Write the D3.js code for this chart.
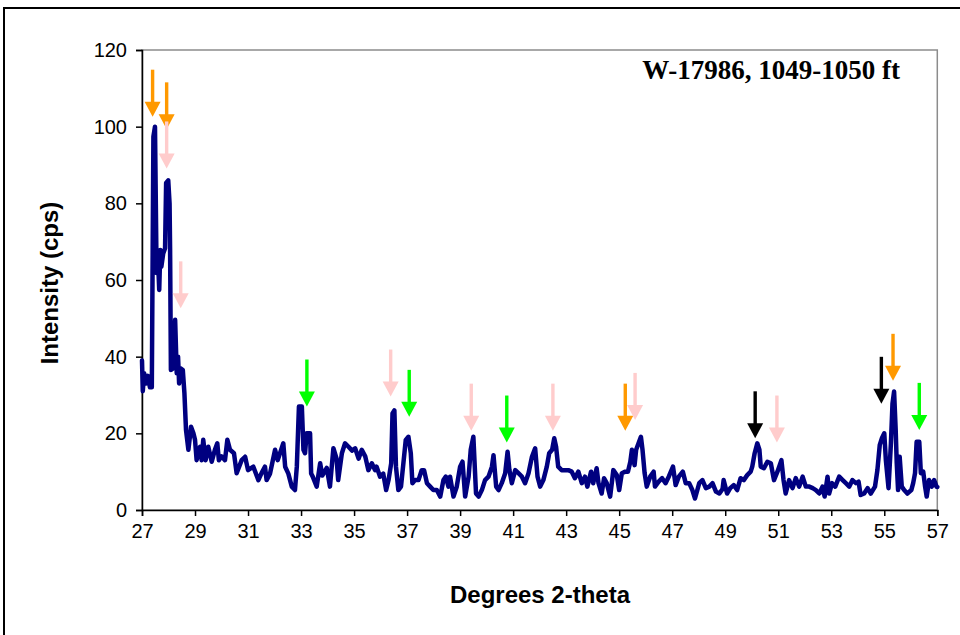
<!DOCTYPE html>
<html>
<head>
<meta charset="utf-8">
<script src="https://cdn.jsdelivr.net/npm/d3@7/dist/d3.min.js"></script>
<style>
  html, body { margin: 0; padding: 0; background: #fff; }
  svg { display: block; }
</style>
</head>
<body>
<svg id="chart" width="960" height="635"></svg>
<script>
// XRD scan, W-17986, 1049-1050 ft
const twoTheta = [
  27.00,27.03,27.08,27.15,27.22,27.30,27.37,27.43,27.49,27.55,27.60,27.65,27.69,27.73,27.80,27.87,27.91,27.99,28.04,28.06,
  28.09,28.18,28.25,28.31,28.36,28.40,28.45,28.54,28.60,28.66,28.75,28.85,28.94,29.00,29.06,29.12,29.19,29.25,29.31,29.40,
  29.50,29.63,29.75,29.84,29.90,30.00,30.13,30.22,30.32,30.47,30.57,30.76,30.89,31.00,31.20,31.39,31.50,31.64,31.70,31.83,
  32.02,32.12,32.33,32.40,32.52,32.65,32.77,32.84,32.92,33.03,33.09,33.15,33.21,33.34,33.38,33.44,33.59,33.72,33.80,33.97,
  34.09,34.22,34.34,34.40,34.54,34.66,34.79,34.92,35.04,35.17,35.29,35.42,35.54,35.67,35.79,35.85,35.98,36.10,36.21,36.30,
  36.40,36.45,36.52,36.58,36.67,36.77,36.86,36.95,37.05,37.14,37.20,37.30,37.43,37.55,37.64,37.75,37.87,37.99,38.12,38.25,
  38.37,38.46,38.56,38.62,38.75,38.87,39.00,39.09,39.19,39.32,39.40,39.50,39.60,39.70,39.82,39.94,40.07,40.20,40.26,40.36,
  40.45,40.57,40.70,40.79,40.86,40.95,41.08,41.20,41.33,41.45,41.58,41.71,41.83,41.92,42.02,42.14,42.27,42.36,42.47,42.55,
  42.62,42.70,42.83,42.96,43.08,43.21,43.33,43.46,43.59,43.71,43.80,43.94,44.02,44.15,44.22,44.34,44.43,44.53,44.66,44.78,
  44.91,45.00,45.10,45.23,45.33,45.42,45.48,45.58,45.64,45.73,45.82,45.88,45.96,46.04,46.17,46.30,46.35,46.49,46.62,46.75,
  46.87,47.03,47.13,47.25,47.40,47.51,47.64,47.76,47.86,48.02,48.14,48.27,48.40,48.52,48.65,48.78,48.90,48.94,49.07,49.19,
  49.32,49.45,49.58,49.70,49.83,49.96,50.02,50.11,50.21,50.29,50.34,50.46,50.59,50.72,50.84,50.97,51.12,51.20,51.28,51.41,
  51.54,51.66,51.79,51.92,52.04,52.17,52.30,52.42,52.55,52.67,52.75,52.86,52.92,53.03,53.15,53.30,53.43,53.55,53.68,53.80,
  53.93,54.03,54.11,54.24,54.37,54.49,54.65,54.74,54.83,54.91,55.00,55.06,55.16,55.25,55.31,55.37,55.43,55.47,55.52,55.58,
  55.66,55.75,55.87,56.02,56.09,56.16,56.22,56.32,56.38,56.47,56.54,56.60,56.69,56.79,56.88,56.97,57.00
];
const intensity = [
  39,31,35.7,33,35,32,32,97.4,100,61.8,66,57.4,67.8,63.5,66.9,68.3,85.3,86,80,67.8,
  36.5,37,49.6,35.7,40,33,37,36.5,30.5,20.9,15.7,21.7,20,18.3,13,15,16.5,13,18.3,13,
  16.5,12.6,15.7,17.4,13,14,13,18.3,15.7,14.8,9.6,13,13.9,10.4,11.3,7.8,9.5,11.3,7.8,9.5,
  15.7,13,17.4,11.3,9.5,6.1,5.2,11.3,27,27,15.7,14.8,20,20,9.5,8.7,6.1,12.2,9,11,
  6.1,16.1,13.4,7.8,14.8,17.4,16.5,15.5,16.1,13.4,15.7,14,10.4,12.2,10.4,11.3,8.7,9.5,5.2,7.8,
  12.2,25.2,26,11.3,5.2,6.1,12.2,18.3,19.1,14.8,7,7.8,7.8,10.4,10.4,7,6.1,5.2,5.2,3.5,
  7.8,8.7,6.1,8.7,3.5,6,11.3,12.6,3.5,8.7,15.7,19.1,4.3,3.5,5.2,7.8,8.7,11.3,14.3,6.1,
  5.2,7,9.6,15.2,10.4,7,10.4,9.6,8.7,7,9.6,13.9,16.1,8.7,6.1,7.8,11.3,14.8,15.7,18.7,
  16.5,11.3,10.4,10.4,10.4,10,8.3,10,7,8.7,6.1,10,7,10.9,7,4.3,8.3,7,3.5,10.4,
  9.1,5.2,9.6,10,10,12.6,15.7,11.7,15.7,17.4,19.1,15.7,9.6,6.1,8.7,10,6.1,7.4,8.3,7,
  8.7,11.3,6.5,8.7,10,7,7,5.2,3,7,7.8,5.7,6.1,7,4.8,4.3,5.5,7.8,4.3,5.7,
  6.5,5.2,8.3,7.8,9.1,10,11.3,14.8,17.4,15.7,11.3,10.9,12.6,12.2,7.8,10,13,7.8,4.3,7.8,
  5.7,8.3,6.1,8.7,6.1,6.1,5.7,5.2,4.3,6.1,3.5,8.7,4.3,7,6.1,8.7,7.8,7,6.1,7.8,
  7,7.4,3.9,4.3,5.7,4.3,6.1,10.4,17,18.7,20,13,5.7,17.4,27.8,30.9,21,12.2,5.2,13.9,
  6.1,5.2,4.3,5.2,7,9.6,17.8,17.8,9.6,10,6.1,3.5,7.8,6.1,7.8,6.1,6
];

// Peak markers: mineral colour group, 2-theta position, intensity at the arrow tip
const markerColor = {
  orange: "#ff9900",
  pink: "#ffcccc",
  green: "#00ff00",
  black: "#000000"
};
const markerGroup = ["orange","orange","pink","pink","green","pink","green","pink","green","pink","orange","pink","black","pink","black","orange","green"];
const markerTheta = [27.40,27.93,27.93,28.46,33.22,36.38,37.08,39.42,40.76,42.50,45.23,45.60,50.13,50.95,54.89,55.33,56.32];
const markerTip   = [102.6,99.3,89.1,52.6,27.0,29.6,24.3,20.7,17.6,20.7,20.7,23.5,18.7,17.6,27.7,33.7,20.9];

const xTicks = d3.range(27, 58, 2);
const yTicks = [0, 20, 40, 60, 80, 100, 120];

const title = "W-17986, 1049-1050 ft";
const xTitle = "Degrees 2-theta";
const yTitle = "Intensity (cps)";

const svg = d3.select("#chart");
const W = 960, H = 635;
const plot = { left: 142, right: 937.3, top: 50, bottom: 510 };

const x = d3.scaleLinear().domain([27, 57]).range([plot.left, plot.right]);
const y = d3.scaleLinear().domain([0, 120]).range([plot.bottom, plot.top]);

// outer chart frame (extends past the page on the right and bottom)
svg.append("rect")
  .attr("x", 4).attr("y", 8)
  .attr("width", W + 20).attr("height", H + 20)
  .attr("fill", "#fff").attr("stroke", "#000").attr("stroke-width", 2);

// plot area frame
svg.append("rect")
  .attr("x", plot.left).attr("y", plot.top)
  .attr("width", plot.right - plot.left).attr("height", plot.bottom - plot.top)
  .attr("fill", "none").attr("stroke", "#8c8c8c").attr("stroke-width", 1.5);

const font = "'Liberation Sans', Arial, sans-serif";

// x axis
const xAxis = svg.append("g")
  .attr("transform", `translate(0,${plot.bottom})`)
  .call(d3.axisBottom(x).tickValues(xTicks).tickSize(6).tickPadding(8).tickFormat(d3.format("d")));
xAxis.select(".domain").attr("stroke", "#000").attr("stroke-width", 1.5);
xAxis.selectAll(".tick line").attr("stroke", "#000").attr("stroke-width", 1.5);
xAxis.selectAll(".tick text").attr("font-family", font).attr("font-size", 20).attr("fill", "#000");

// y axis
const yAxis = svg.append("g")
  .attr("transform", `translate(${plot.left},0)`)
  .call(d3.axisLeft(y).tickValues(yTicks).tickSize(6).tickPadding(9).tickFormat(d3.format("d")));
yAxis.select(".domain").attr("stroke", "#000").attr("stroke-width", 1.5);
yAxis.selectAll(".tick line").attr("stroke", "#000").attr("stroke-width", 1.5);
yAxis.selectAll(".tick text").attr("font-family", font).attr("font-size", 20).attr("fill", "#000");

// diffraction trace
const pts = twoTheta.map((t, i) => [t, intensity[i]]);
const line = d3.line().x(d => x(d[0])).y(d => y(d[1]));
svg.append("path")
  .datum(pts)
  .attr("d", line)
  .attr("fill", "none")
  .attr("stroke", "#000080")
  .attr("stroke-width", 4.5)
  .attr("stroke-linejoin", "round")
  .attr("stroke-linecap", "round");

// peak arrows
const arrowLen = 47, headLen = 15, headHalf = 8, shaftW = 3.4;
const arrows = svg.append("g");
markerTheta.forEach((t, i) => {
  const cx = x(t), tip = y(markerTip[i]);
  const c = markerColor[markerGroup[i]];
  const g = arrows.append("g");
  g.append("rect")
    .attr("x", cx - shaftW / 2).attr("y", tip - arrowLen)
    .attr("width", shaftW).attr("height", arrowLen - headLen + 1)
    .attr("fill", c);
  g.append("path")
    .attr("d", `M${cx - headHalf},${tip - headLen} L${cx + headHalf},${tip - headLen} L${cx},${tip} Z`)
    .attr("fill", c);
});

// sample label
svg.append("text")
  .attr("x", 900).attr("y", 79)
  .attr("text-anchor", "end")
  .attr("font-family", "'Liberation Serif', 'Times New Roman', serif")
  .attr("font-weight", "bold")
  .attr("font-size", 27)
  .text(title);

// axis titles
svg.append("text")
  .attr("x", 540).attr("y", 603)
  .attr("text-anchor", "middle")
  .attr("font-family", font).attr("font-weight", "bold").attr("font-size", 24)
  .text(xTitle);

svg.append("text")
  .attr("transform", `translate(58,283) rotate(-90)`)
  .attr("text-anchor", "middle")
  .attr("font-family", font).attr("font-weight", "bold").attr("font-size", 24)
  .text(yTitle);
</script>
</body>
</html>
